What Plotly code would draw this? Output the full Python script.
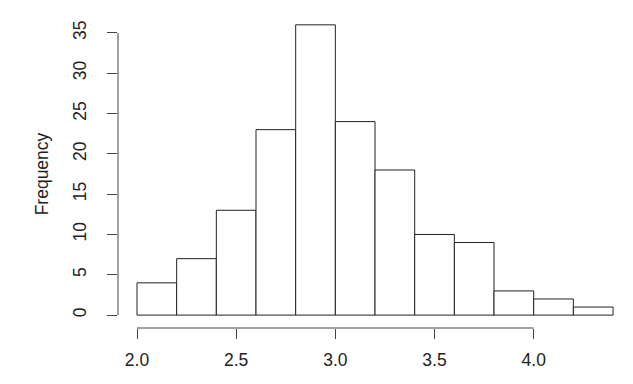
import plotly.graph_objects as go

breaks = [2.0, 2.2, 2.4, 2.6, 2.8, 3.0, 3.2, 3.4, 3.6, 3.8, 4.0, 4.2, 4.4]
counts = [4, 7, 13, 23, 36, 24, 18, 10, 9, 3, 2, 1]
x_ticks = [2.0, 2.5, 3.0, 3.5, 4.0]
x_tick_labels = ["2.0", "2.5", "3.0", "3.5", "4.0"]
y_ticks = [0, 5, 10, 15, 20, 25, 30, 35]

mids = [(a + b) / 2 for a, b in zip(breaks[:-1], breaks[1:])]
widths = [b - a for a, b in zip(breaks[:-1], breaks[1:])]

fig = go.Figure(go.Bar(
    x=mids, y=counts, width=widths,
    marker=dict(color="white", line=dict(color="#222222", width=1)),
    hoverinfo="skip",
))

font = dict(family="Liberation Sans, Arial, sans-serif", size=17.5, color="#222222")
axcol = "#444444"

fig.update_layout(
    width=625, height=376,
    margin=dict(l=110, r=8, t=12, b=56, autoexpand=False),
    paper_bgcolor="white", plot_bgcolor="white",
    showlegend=False,
    font=font,
    xaxis=dict(range=[1.9042, 4.4603], tickvals=x_ticks, ticktext=x_tick_labels,
               ticks="outside", ticklen=10, tickwidth=1, tickcolor=axcol,
               ticklabelstandoff=6, automargin=False,
               showline=False, showgrid=False, zeroline=False, tickfont=font),
    yaxis=dict(range=[-1.60, 36.6], tickvals=y_ticks, tickangle=-90,
               ticks="outside", ticklen=10, tickwidth=1, tickcolor=axcol,
               ticklabelstandoff=14, automargin=False,
               showline=False, showgrid=False, zeroline=False, tickfont=font,
               title=dict(text="Frequency", font=font, standoff=16)),
    shapes=[
        dict(type="line", xref="paper", yref="y", x0=0, x1=0, y0=y_ticks[0], y1=y_ticks[-1],
             line=dict(color=axcol, width=1)),
        dict(type="line", xref="x", yref="paper", x0=x_ticks[0], x1=x_ticks[-1], y0=0, y1=0,
             line=dict(color=axcol, width=1)),
    ],
)

fig.write_html("out.html")
